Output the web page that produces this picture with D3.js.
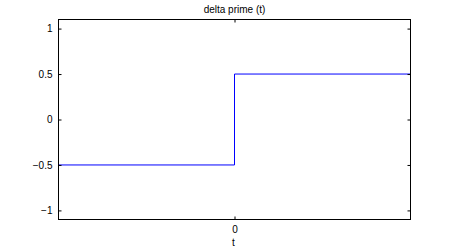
<!DOCTYPE html>
<html><head><meta charset="utf-8">
<script src="https://cdn.jsdelivr.net/npm/d3@7"></script>
<style>body{margin:0;background:#fff}svg{display:block}text{font-family:"Liberation Sans",Arial,sans-serif;font-size:10px;fill:#000}</style>
</head><body>
<script>
const tValues = [-1, 0, 0, 1];
const yValues = [-0.5, -0.5, 0.5, 0.5];
const xTicks = [0];
const yTicks = [-1, -0.5, 0, 0.5, 1];
const title = "delta prime (t)";
const xLabel = "t";

const W = 454, H = 247;
const m = {left: 58.5, right: 43.5, top: 19.5, bottom: 27.5};
const svg = d3.select("body").append("svg").attr("width", W).attr("height", H);
const x = d3.scaleLinear().domain([-1, 1]).range([m.left, W - m.right]);
const y = d3.scaleLinear().domain([-1.1, 1.1]).range([H - m.bottom, m.top]);

const g = svg.append("g");
const line = d3.line().x((d, i) => x(tValues[i])).y((d, i) => y(yValues[i]));
g.append("path").datum(tValues).attr("d", line).attr("fill", "none").attr("stroke", "#0000ff").attr("stroke-width", 1);

g.append("rect").attr("x", m.left).attr("y", m.top).attr("width", W - m.left - m.right).attr("height", H - m.top - m.bottom)
  .attr("fill", "none").attr("stroke", "#000").attr("stroke-width", 1);

const tl = 3;
const axL = d3.axisLeft(y).tickValues(yTicks).tickSize(-tl).tickPadding(6).tickFormat(d => d3.format("")(d).replace("-", "\u2212"));
const gl = svg.append("g").attr("transform", `translate(${m.left},0)`).call(axL);
const axR = d3.axisRight(y).tickValues(yTicks).tickSize(-tl).tickFormat("");
const gr = svg.append("g").attr("transform", `translate(${W - m.right},0)`).call(axR);
const axB = d3.axisBottom(x).tickValues(xTicks).tickSize(-tl).tickPadding(6).tickFormat(d3.format(""));
const gb = svg.append("g").attr("transform", `translate(0,${H - m.bottom})`).call(axB);
const axT = d3.axisTop(x).tickValues(xTicks).tickSize(-tl).tickFormat("");
const gt = svg.append("g").attr("transform", `translate(0,${m.top})`).call(axT);
[gl, gr, gb, gt].forEach(a => {
  a.select(".domain").remove();
  a.selectAll("line").attr("stroke", "#000");
  a.selectAll("text").attr("font-family", '"Liberation Sans",Arial,sans-serif').attr("font-size", 10).attr("fill", "#000");
});

svg.append("text").attr("x", x(0)).attr("y", 12.5).attr("text-anchor", "middle").attr("font-size", 11).text(title);
svg.append("text").attr("x", x(0) - 1).attr("y", 245.5).attr("text-anchor", "middle").attr("font-size", 11).text(xLabel);
</script>
</body></html>
